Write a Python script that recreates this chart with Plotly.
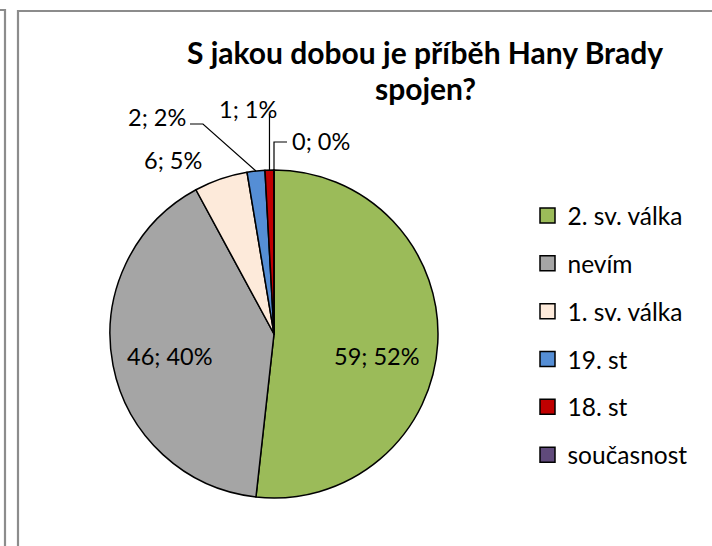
import math
import plotly.graph_objects as go

# ---- data ----
categories = ["2. sv. válka", "nevím", "1. sv. válka", "19. st", "18. st", "současnost"]
counts = [59, 46, 6, 2, 1, 0]
colors = ["#9BBB59", "#A5A5A5", "#FDEADA", "#558ED5", "#C00000", "#604A7B"]
title_lines = ["S jakou dobou je příběh Hany Brady", "spojen?"]

# ---- layout geometry (pixels) ----
W, H = 712, 546
CX, CY, R = 274, 334, 164
FONT = "Lato"


def px(x):
    return x / W


def py(y):
    return 1 - y / H


total = sum(counts)

fig = go.Figure()

fig.add_trace(go.Pie(
    labels=categories, values=counts, sort=False,
    direction="clockwise", rotation=0,
    marker=dict(colors=colors, line=dict(color="black", width=1.5)),
    textinfo="none",
    domain=dict(x=[px(CX - R), px(CX + R)], y=[py(CY + R), py(CY - R)]),
    showlegend=False,
    hoverinfo="label+value+percent",
))

# legend entries
for name, col in zip(categories, colors):
    fig.add_trace(go.Scatter(
        x=[None], y=[None], mode="markers", name=name,
        marker=dict(symbol="square", size=15, color=col,
                    line=dict(color="black", width=1.5)),
        legendgroup=name, hoverinfo="skip",
    ))

# data-label placement style (offsets in px)
#   inside labels: offset from pie centre; outside labels: offset from slice mid-angle point
label_style = {
    0: dict(ref="center", dx=103, dy=22, path=None),
    1: dict(ref="center", dx=-104, dy=22, path=None),
    2: dict(ref="edge", dx=-48, dy=-19, path=None),
    3: dict(ref="edge", dx=-99, dy=-54, path=[(-53, -47), (-66, -47)]),
    4: dict(ref="edge", dx=-21, dy=-61, path=[(0, -56)]),
    5: dict(ref="edge", dx=47, dy=-29, path=[(0, -28), (13, -28)]),
}

annotations = []
shapes = []
cum = 0.0
for i, c in enumerate(counts):
    start = cum
    cum += c
    st = label_style[i]
    mid = (start + cum) / 2 / total * 2 * math.pi
    ex = CX + R * math.sin(mid)
    ey = CY - R * math.cos(mid)
    bx, by = (CX, CY) if st["ref"] == "center" else (ex, ey)
    pct = round(100 * c / total)
    annotations.append(dict(
        x=px(bx + st["dx"]), y=py(by + st["dy"]), xref="paper", yref="paper",
        text=f"{c}; {pct}%", showarrow=False,
        font=dict(family=FONT, size=23.5, color="black"),
        xanchor="center", yanchor="middle",
    ))
    if st["path"]:
        pts = [(ex, ey)] + [(ex + ox, ey + oy) for ox, oy in st["path"]]
        d = "M " + " L ".join(f"{px(x):.5f},{py(y):.5f}" for x, y in pts)
        shapes.append(dict(type="path", path=d, xref="paper", yref="paper",
                           line=dict(color="black", width=1.2)))

# chart title (two lines, 36 px apart)
for k, line in enumerate(title_lines):
    annotations.append(dict(
        x=px(425), y=py(52 + 36 * k), xref="paper", yref="paper",
        text=f"<b>{line}</b>", showarrow=False,
        font=dict(family=FONT, size=30, color="black"),
        xanchor="center", yanchor="middle",
    ))

# frame lines
frame_col = "#8C8C8C"
shapes.append(dict(type="path", xref="paper", yref="paper",
                   path=f"M {px(18)},{py(560)} L {px(18)},{py(11)} L {px(730)},{py(11)}",
                   line=dict(color=frame_col, width=2.2)))
shapes.append(dict(type="path", xref="paper", yref="paper",
                   path=f"M {px(-5)},{py(10)} L {px(5)},{py(10)} L {px(5)},{py(560)}",
                   line=dict(color=frame_col, width=2.2)))

fig.update_layout(
    width=W, height=H,
    margin=dict(l=0, r=0, t=0, b=0, autoexpand=False),
    paper_bgcolor="white", plot_bgcolor="white",
    xaxis=dict(visible=False), yaxis=dict(visible=False),
    legend=dict(x=px(527.5), y=py(193), xanchor="left", yanchor="top",
                font=dict(family=FONT, size=24.5, color="black"),
                tracegroupgap=13, itemwidth=30, bgcolor="rgba(0,0,0,0)"),
    annotations=annotations, shapes=shapes,
    showlegend=True,
)

fig.write_html("out.html", config={"displayModeBar": False},
               post_script="document.body.style.margin='0';")
